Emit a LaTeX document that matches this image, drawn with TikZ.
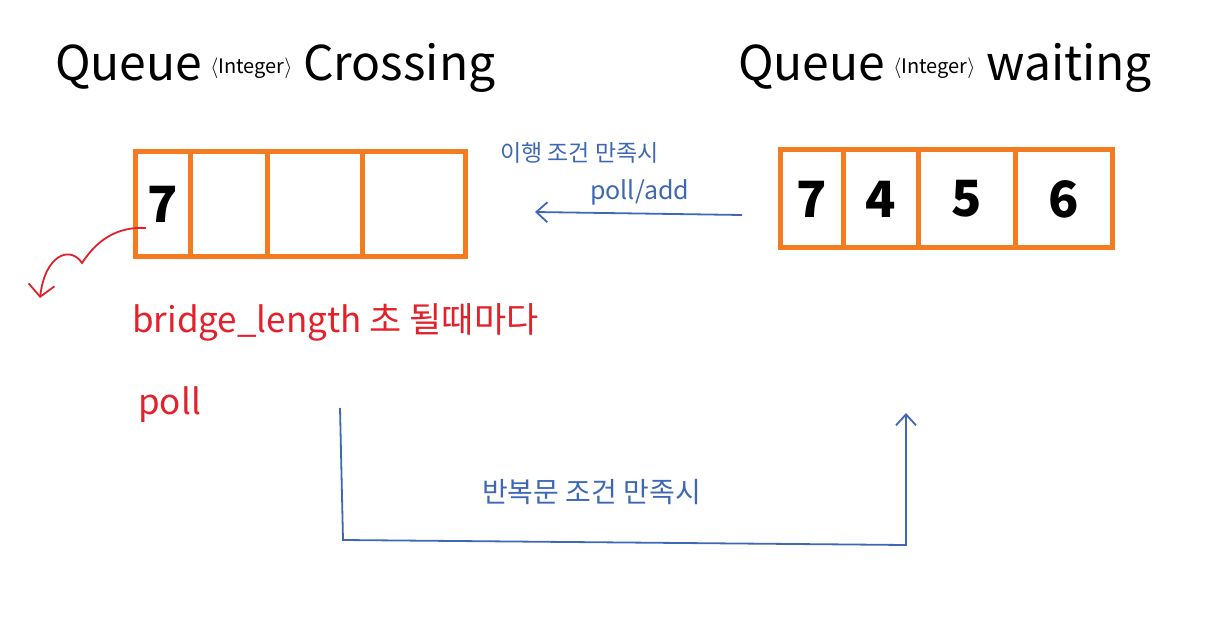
\documentclass[tikz,border=0pt]{standalone}
\usepackage{fontspec}
\setmainfont{Noto Sans CJK KR}
\usetikzlibrary{arrows.meta}
\definecolor{qorange}{HTML}{F57B21}
\definecolor{qblue}{HTML}{3E68B6}
\definecolor{qred}{HTML}{E2212B}
\newcommand{\intg}{\raisebox{7pt}{\fontsize{20}{20}\selectfont$\langle$Integer$\rangle$}}
\begin{document}
\begin{tikzpicture}[x=1pt,y=-1pt,
  cell/.style={draw=qorange, line width=5pt, inner sep=0pt, minimum height=#1, font=\fontsize{50}{50}\selectfont\bfseries, text=black},
  title/.style={anchor=west, inner sep=0pt, font=\fontsize{48}{48}\selectfont},
  bluetxt/.style={text=qblue, inner sep=0pt, anchor=west},
  redtxt/.style={text=qred, inner sep=0pt, anchor=west},
  bluearrow/.style={draw=qblue, line width=1.8pt, -{Straight Barb[length=11pt,width=20pt]}},
  redarrow/.style={draw=qred, line width=1.8pt, -{Straight Barb[length=12pt,width=26pt]}}]
\useasboundingbox (0,0) rectangle (1212,620);
% titles
\node[title] (tl) at (55,68) {Queue\,\intg\ Crossing};
\node[title] (tr) at (738,68) {Queue\,\intg\ waiting};
% left queue
\node[cell=105pt, minimum width=55pt] (l1) at (162.5,204.5) {7};
\node[cell=105pt, minimum width=77pt] (l2) at (228.5,204.5) {};
\node[cell=105pt, minimum width=95pt] (l3) at (314.5,204.5) {};
\node[cell=105pt, minimum width=103pt] (l4) at (413.5,204.5) {};
% right queue
\node[cell=98pt, minimum width=63pt] (r1) at (811.5,199) {7};
\node[cell=98pt, minimum width=75pt] (r2) at (880.5,199) {4};
\node[cell=98pt, minimum width=97pt] (r3) at (966.5,199) {5};
\node[cell=98pt, minimum width=97pt] (r4) at (1063.5,199) {6};
% transfer arrow
\node[bluetxt, font=\fontsize{23}{23}\selectfont] (cond1) at (500,153) {이행 조건 만족시};
\node[bluetxt, font=\fontsize{25}{25}\selectfont] (pa) at (590,192) {poll/add};
\coordinate (as) at (742,215);
\coordinate (ae) at (535,212);
\draw[bluearrow] (as) -- (ae);
% red poll arrow
\coordinate (rs) at (146,228);
\coordinate (rm) at (82,263);
\coordinate (re) at (40,298);
\draw[redarrow] (rs) .. controls (110,226) and (92,248) .. (rm) .. controls (70,245) and (45,255) .. (re);
\node[redtxt, font=\fontsize{35}{35}\selectfont] (bl) at (132,322) {bridge\_length 초 될때마다};
\node[redtxt, font=\fontsize{35}{35}\selectfont] (pl) at (138,405) {poll};
% loop bracket
\coordinate (bs) at (340,408);
\coordinate (b1) at (343,540);
\coordinate (b2) at (906,545);
\coordinate (be) at (906,413);
\draw[bluearrow] (bs) -- (b1) -- (b2) -- (be);
\node[bluetxt, font=\fontsize{28}{28}\selectfont] (cond2) at (482,492) {반복문 조건 만족시};
\end{tikzpicture}
\end{document}
